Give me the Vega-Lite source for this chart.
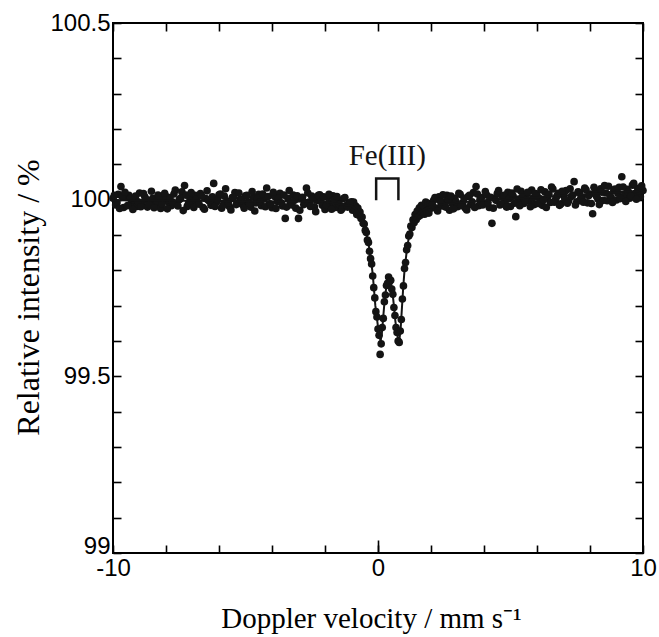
{
  "$schema": "https://vega.github.io/schema/vega-lite/v6.json",
  "width": 530,
  "height": 530,
  "autosize": {"type": "none"},
  "padding": {"left": 113, "top": 23, "right": 16, "bottom": 84},
  "background": "white",
  "config": {
    "view": {"stroke": "black", "strokeWidth": 2},
    "axis": {"grid": false, "domain": false, "tickColor": "black", "tickWidth": 1.6, "labelColor": "black", "titleColor": "black", "labelFont": "Liberation Sans", "labelFontSize": 24, "titleFont": "Liberation Serif", "titleFontSize": 29, "titleFontWeight": "normal"}
  },
  "datasets": {
    "pts": [
      {"v":-10.0,"i":100.004},{"v":-9.9,"i":99.985},{"v":-9.8,"i":100.015},{"v":-9.7,"i":100.037},{"v":-9.6,"i":99.978},{"v":-9.5,"i":100.006},{"v":-9.4,"i":100.012},{"v":-9.3,"i":99.989},{"v":-9.2,"i":99.999},{"v":-9.1,"i":99.981},
      {"v":-9.0,"i":100.019},{"v":-8.9,"i":99.991},{"v":-8.8,"i":100.008},{"v":-8.7,"i":99.979},{"v":-8.6,"i":99.997},{"v":-8.5,"i":100.004},{"v":-8.4,"i":99.987},{"v":-8.3,"i":100.013},{"v":-8.2,"i":99.975},{"v":-8.1,"i":100.001},
      {"v":-8.0,"i":100.009},{"v":-7.9,"i":99.992},{"v":-7.8,"i":99.983},{"v":-7.7,"i":100.016},{"v":-7.6,"i":99.988},{"v":-7.5,"i":100.0},{"v":-7.4,"i":100.022},{"v":-7.3,"i":100.04},{"v":-7.2,"i":99.981},{"v":-7.1,"i":100.005},
      {"v":-7.0,"i":99.986},{"v":-6.9,"i":100.012},{"v":-6.8,"i":99.99},{"v":-6.7,"i":100.017},{"v":-6.6,"i":99.978},{"v":-6.5,"i":100.003},{"v":-6.4,"i":99.998},{"v":-6.3,"i":99.984},{"v":-6.2,"i":100.046},{"v":-6.1,"i":99.993},
      {"v":-6.0,"i":100.014},{"v":-5.9,"i":99.976},{"v":-5.8,"i":100.01},{"v":-5.7,"i":99.996},{"v":-5.6,"i":99.98},{"v":-5.5,"i":100.006},{"v":-5.4,"i":100.02},{"v":-5.3,"i":99.989},{"v":-5.2,"i":100.001},{"v":-5.1,"i":99.985},
      {"v":-5.0,"i":100.011},{"v":-4.9,"i":99.994},{"v":-4.8,"i":99.979},{"v":-4.7,"i":100.007},{"v":-4.6,"i":99.991},{"v":-4.5,"i":100.015},{"v":-4.4,"i":99.983},{"v":-4.3,"i":100.002},{"v":-4.2,"i":100.033},{"v":-4.1,"i":99.988},
      {"v":-4.0,"i":99.977},{"v":-3.9,"i":100.009},{"v":-3.8,"i":99.995},{"v":-3.7,"i":100.018},{"v":-3.6,"i":99.982},{"v":-3.5,"i":99.947},{"v":-3.4,"i":100.004},{"v":-3.3,"i":99.99},{"v":-3.2,"i":100.013},{"v":-3.1,"i":99.976},
      {"v":-3.0,"i":99.947},{"v":-2.9,"i":100.003},{"v":-2.8,"i":99.986},{"v":-2.7,"i":100.033},{"v":-2.6,"i":99.993},{"v":-2.5,"i":100.01},{"v":-2.4,"i":99.98},{"v":-2.3,"i":99.998},{"v":-2.2,"i":100.014},{"v":-2.1,"i":99.984},
      {"v":-2.0,"i":99.972},{"v":-1.9,"i":100.006},{"v":-1.8,"i":99.989},{"v":-1.7,"i":100.011},{"v":-1.6,"i":99.978},{"v":-1.5,"i":99.995},{"v":-1.4,"i":99.97},{"v":-1.3,"i":100.003},{"v":-1.2,"i":99.983},{"v":-1.1,"i":99.99},
      {"v":-1.0,"i":99.994},{"v":-0.96,"i":99.97},{"v":-0.92,"i":99.993},{"v":-0.88,"i":99.972},{"v":-0.84,"i":99.982},{"v":-0.8,"i":99.958},{"v":-0.76,"i":99.976},{"v":-0.72,"i":99.956},{"v":-0.68,"i":99.965},{"v":-0.64,"i":99.947},
      {"v":-0.6,"i":99.951},{"v":-0.56,"i":99.933},{"v":-0.52,"i":99.931},{"v":-0.48,"i":99.913},{"v":-0.44,"i":99.907},{"v":-0.4,"i":99.886},{"v":-0.36,"i":99.879},{"v":-0.32,"i":99.854},{"v":-0.28,"i":99.833},{"v":-0.24,"i":99.818},
      {"v":-0.2,"i":99.784},{"v":-0.16,"i":99.751},{"v":-0.12,"i":99.722},{"v":-0.08,"i":99.683},{"v":-0.04,"i":99.668},{"v":0.0,"i":99.634},{"v":0.04,"i":99.616},{"v":0.08,"i":99.562},{"v":0.12,"i":99.592},{"v":0.16,"i":99.638},
      {"v":0.2,"i":99.664},{"v":0.24,"i":99.711},{"v":0.28,"i":99.73},{"v":0.32,"i":99.757},{"v":0.36,"i":99.763},{"v":0.4,"i":99.781},{"v":0.44,"i":99.769},{"v":0.48,"i":99.772},{"v":0.52,"i":99.747},{"v":0.56,"i":99.732},
      {"v":0.6,"i":99.695},{"v":0.64,"i":99.672},{"v":0.68,"i":99.638},{"v":0.72,"i":99.624},{"v":0.76,"i":99.6},{"v":0.8,"i":99.596},{"v":0.84,"i":99.628},{"v":0.88,"i":99.661},{"v":0.92,"i":99.719},{"v":0.96,"i":99.756},
      {"v":1.0,"i":99.805},{"v":1.04,"i":99.822},{"v":1.08,"i":99.858},{"v":1.12,"i":99.87},{"v":1.16,"i":99.897},{"v":1.2,"i":99.903},{"v":1.24,"i":99.925},{"v":1.28,"i":99.921},{"v":1.32,"i":99.943},{"v":1.36,"i":99.935},
      {"v":1.4,"i":99.958},{"v":1.44,"i":99.943},{"v":1.48,"i":99.968},{"v":1.52,"i":99.952},{"v":1.56,"i":99.977},{"v":1.6,"i":99.956},{"v":1.64,"i":99.984},{"v":1.68,"i":99.964},{"v":1.72,"i":99.982},{"v":1.76,"i":99.959},
      {"v":1.8,"i":99.993},{"v":1.84,"i":99.967},{"v":1.88,"i":99.99},{"v":1.92,"i":99.962},{"v":1.96,"i":99.987},{"v":2.0,"i":99.976},
      {"v":2.1,"i":99.998},{"v":2.2,"i":99.975},{"v":2.3,"i":100.008},{"v":2.4,"i":99.982},{"v":2.5,"i":99.994},{"v":2.6,"i":100.012},{"v":2.7,"i":99.97},{"v":2.8,"i":99.989},{"v":2.9,"i":100.004},{"v":3.0,"i":99.98},
      {"v":3.1,"i":100.015},{"v":3.2,"i":99.991},{"v":3.3,"i":99.976},{"v":3.4,"i":100.009},{"v":3.5,"i":99.986},{"v":3.6,"i":100.02},{"v":3.7,"i":100.037},{"v":3.8,"i":99.983},{"v":3.9,"i":100.006},{"v":4.0,"i":99.99},
      {"v":4.1,"i":100.013},{"v":4.2,"i":99.978},{"v":4.3,"i":99.933},{"v":4.4,"i":100.004},{"v":4.5,"i":100.017},{"v":4.6,"i":99.985},{"v":4.7,"i":100.008},{"v":4.8,"i":99.994},{"v":4.9,"i":100.021},{"v":5.0,"i":99.981},
      {"v":5.1,"i":100.01},{"v":5.2,"i":99.952},{"v":5.3,"i":100.002},{"v":5.4,"i":100.024},{"v":5.5,"i":99.989},{"v":5.6,"i":100.014},{"v":5.7,"i":99.996},{"v":5.8,"i":100.027},{"v":5.9,"i":99.986},{"v":6.0,"i":100.011},
      {"v":6.1,"i":100.003},{"v":6.2,"i":99.984},{"v":6.3,"i":100.022},{"v":6.4,"i":100.007},{"v":6.5,"i":99.992},{"v":6.6,"i":100.03},{"v":6.7,"i":100.001},{"v":6.8,"i":100.018},{"v":6.9,"i":99.988},{"v":7.0,"i":100.012},
      {"v":7.1,"i":100.026},{"v":7.2,"i":99.997},{"v":7.3,"i":100.009},{"v":7.4,"i":100.051},{"v":7.5,"i":99.994},{"v":7.6,"i":100.02},{"v":7.7,"i":100.005},{"v":7.8,"i":100.033},{"v":7.9,"i":99.991},{"v":8.0,"i":100.016},
      {"v":8.1,"i":99.96},{"v":8.2,"i":100.024},{"v":8.3,"i":100.002},{"v":8.4,"i":100.031},{"v":8.5,"i":99.998},{"v":8.6,"i":100.019},{"v":8.7,"i":100.038},{"v":8.8,"i":100.006},{"v":8.9,"i":100.027},{"v":9.0,"i":99.999},
      {"v":9.1,"i":100.035},{"v":9.2,"i":100.065},{"v":9.3,"i":100.012},{"v":9.4,"i":100.029},{"v":9.5,"i":100.004},{"v":9.6,"i":100.041},{"v":9.7,"i":100.017},{"v":9.8,"i":100.032},{"v":9.9,"i":100.008},{"v":10.0,"i":100.026},
      {"v":-9.95,"i":100.012},{"v":-9.85,"i":99.991},{"v":-9.75,"i":99.975},{"v":-9.65,"i":100.008},{"v":-9.55,"i":100.021},{"v":-9.45,"i":99.983},{"v":-9.35,"i":100.003},{"v":-9.25,"i":99.972},{"v":-9.15,"i":100.01},{"v":-9.05,"i":99.994},
      {"v":-8.95,"i":99.98},{"v":-8.85,"i":100.017},{"v":-8.75,"i":100.001},{"v":-8.65,"i":99.986},{"v":-8.55,"i":100.024},{"v":-8.45,"i":99.977},{"v":-8.35,"i":99.996},{"v":-8.25,"i":100.009},{"v":-8.15,"i":99.988},{"v":-8.05,"i":100.018},
      {"v":-7.95,"i":99.974},{"v":-7.85,"i":100.006},{"v":-7.75,"i":99.993},{"v":-7.65,"i":100.027},{"v":-7.55,"i":99.982},{"v":-7.45,"i":100.004},{"v":-7.35,"i":99.969},{"v":-7.25,"i":100.013},{"v":-7.15,"i":99.99},{"v":-7.05,"i":100.02},
      {"v":-6.95,"i":99.978},{"v":-6.85,"i":100.002},{"v":-6.75,"i":99.987},{"v":-6.65,"i":100.01},{"v":-6.55,"i":99.973},{"v":-6.45,"i":100.025},{"v":-6.35,"i":99.995},{"v":-6.25,"i":100.008},{"v":-6.15,"i":99.981},{"v":-6.05,"i":99.999},
      {"v":-5.95,"i":100.016},{"v":-5.85,"i":99.984},{"v":-5.75,"i":100.031},{"v":-5.65,"i":99.992},{"v":-5.55,"i":99.971},{"v":-5.45,"i":100.007},{"v":-5.35,"i":99.986},{"v":-5.25,"i":100.019},{"v":-5.15,"i":99.998},{"v":-5.05,"i":99.976},
      {"v":-4.95,"i":100.012},{"v":-4.85,"i":99.989},{"v":-4.75,"i":100.023},{"v":-4.65,"i":99.968},{"v":-4.55,"i":100.003},{"v":-4.45,"i":99.994},{"v":-4.35,"i":100.016},{"v":-4.25,"i":99.98},{"v":-4.15,"i":100.009},{"v":-4.05,"i":99.987},
      {"v":-3.95,"i":100.021},{"v":-3.85,"i":99.975},{"v":-3.75,"i":100.004},{"v":-3.65,"i":99.991},{"v":-3.55,"i":100.013},{"v":-3.45,"i":99.979},{"v":-3.35,"i":100.026},{"v":-3.25,"i":99.985},{"v":-3.15,"i":99.998},{"v":-3.05,"i":100.011},
      {"v":-2.95,"i":99.97},{"v":-2.85,"i":100.007},{"v":-2.75,"i":99.992},{"v":-2.65,"i":100.019},{"v":-2.55,"i":99.981},{"v":-2.45,"i":100.002},{"v":-2.35,"i":99.966},{"v":-2.25,"i":100.012},{"v":-2.15,"i":99.995},{"v":-2.05,"i":100.008},
      {"v":-1.95,"i":99.984},{"v":-1.85,"i":100.015},{"v":-1.75,"i":99.973},{"v":-1.65,"i":99.999},{"v":-1.55,"i":100.009},{"v":-1.45,"i":99.986},{"v":-1.35,"i":99.975},{"v":-1.25,"i":100.006},{"v":-1.15,"i":99.979},{"v":-1.05,"i":99.992},
      {"v":2.05,"i":99.985},{"v":2.15,"i":100.006},{"v":2.25,"i":99.968},{"v":2.35,"i":99.996},{"v":2.45,"i":100.014},{"v":2.55,"i":99.979},{"v":2.65,"i":99.999},{"v":2.75,"i":100.01},{"v":2.85,"i":99.974},{"v":2.95,"i":99.993},
      {"v":3.05,"i":100.018},{"v":3.15,"i":99.983},{"v":3.25,"i":100.004},{"v":3.35,"i":99.971},{"v":3.45,"i":100.012},{"v":3.55,"i":99.994},{"v":3.65,"i":99.978},{"v":3.75,"i":100.016},{"v":3.85,"i":100.001},{"v":3.95,"i":99.985},
      {"v":4.05,"i":100.023},{"v":4.15,"i":99.992},{"v":4.25,"i":100.007},{"v":4.35,"i":99.976},{"v":4.45,"i":99.998},{"v":4.55,"i":100.026},{"v":4.65,"i":99.988},{"v":4.75,"i":100.012},{"v":4.85,"i":99.979},{"v":4.95,"i":100.003},
      {"v":5.05,"i":100.019},{"v":5.15,"i":99.99},{"v":5.25,"i":100.03},{"v":5.35,"i":99.983},{"v":5.45,"i":100.008},{"v":5.55,"i":99.996},{"v":5.65,"i":100.021},{"v":5.75,"i":99.98},{"v":5.85,"i":100.005},{"v":5.95,"i":100.017},
      {"v":6.05,"i":99.989},{"v":6.15,"i":100.028},{"v":6.25,"i":100.0},{"v":6.35,"i":99.978},{"v":6.45,"i":100.015},{"v":6.55,"i":100.036},{"v":6.65,"i":99.993},{"v":6.75,"i":100.01},{"v":6.85,"i":99.984},{"v":6.95,"i":100.024},
      {"v":7.05,"i":100.002},{"v":7.15,"i":99.99},{"v":7.25,"i":100.031},{"v":7.35,"i":100.013},{"v":7.45,"i":99.985},{"v":7.55,"i":100.022},{"v":7.65,"i":100.004},{"v":7.75,"i":99.993},{"v":7.85,"i":100.028},{"v":7.95,"i":100.011},
      {"v":8.05,"i":99.989},{"v":8.15,"i":100.035},{"v":8.25,"i":100.009},{"v":8.35,"i":99.986},{"v":8.45,"i":100.021},{"v":8.55,"i":100.04},{"v":8.65,"i":99.997},{"v":8.75,"i":100.014},{"v":8.85,"i":99.992},{"v":8.95,"i":100.03},
      {"v":9.05,"i":100.018},{"v":9.15,"i":100.003},{"v":9.25,"i":100.036},{"v":9.35,"i":99.995},{"v":9.45,"i":100.022},{"v":9.55,"i":100.01},{"v":9.65,"i":100.046},{"v":9.75,"i":100.001},{"v":9.85,"i":100.024},{"v":9.95,"i":100.039}
    ],
    "fit": [
      {"v":-10,"i":99.998},{"v":-2,"i":99.994},{"v":-1.5,"i":99.988},{"v":-1.0,"i":99.982},{"v":-0.9,"i":99.977},{"v":-0.8,"i":99.97},{"v":-0.7,"i":99.96},{"v":-0.6,"i":99.945},{"v":-0.5,"i":99.922},{"v":-0.4,"i":99.89},
      {"v":-0.3,"i":99.85},{"v":-0.2,"i":99.79},{"v":-0.1,"i":99.7},{"v":0.0,"i":99.64},{"v":0.05,"i":99.615},{"v":0.1,"i":99.6},{"v":0.15,"i":99.625},{"v":0.2,"i":99.67},{"v":0.25,"i":99.715},{"v":0.3,"i":99.745},
      {"v":0.35,"i":99.765},{"v":0.42,"i":99.775},{"v":0.5,"i":99.762},{"v":0.55,"i":99.735},{"v":0.6,"i":99.7},{"v":0.65,"i":99.66},{"v":0.7,"i":99.63},{"v":0.75,"i":99.608},{"v":0.8,"i":99.6},{"v":0.85,"i":99.63},
      {"v":0.9,"i":99.69},{"v":0.95,"i":99.75},{"v":1.0,"i":99.8},{"v":1.1,"i":99.865},{"v":1.2,"i":99.908},{"v":1.3,"i":99.932},{"v":1.4,"i":99.948},{"v":1.5,"i":99.958},{"v":1.6,"i":99.966},{"v":1.8,"i":99.975},
      {"v":2.0,"i":99.981},{"v":2.5,"i":99.988},{"v":4,"i":99.998},{"v":7,"i":100.012},{"v":10,"i":100.025}
    ],
    "bracket": [
      {"v":-0.07,"i":99.998,"o":1},{"v":-0.07,"i":100.06,"o":2},{"v":0.77,"i":100.06,"o":3},{"v":0.77,"i":99.998,"o":4}
    ],
    "label": [{"v":0.35,"i":100.098,"t":"Fe(III)"}]
  },
  "layer": [
    {
      "data": {"name": "pts"},
      "mark": {"type": "circle", "size": 58, "color": "#141414", "opacity": 1},
      "encoding": {
        "x": {"field": "v", "type": "quantitative", "scale": {"domain": [-10, 10], "nice": false, "zero": false},
          "axis": {"orient": "bottom", "title": "Doppler velocity / mm s⁻¹", "values": [-10,-8,-6,-4,-2,0,2,4,6,8,10],
            "tickSize": -8,
            "labelExpr": "datum.value == -10 ? '-10' : datum.value == 0 ? '0' : datum.value == 10 ? '10' : ''",
            "labelPadding": 11, "labelFlush": false, "labelOverlap": false,
            "titleX": 258, "titleY": 74, "titleBaseline": "alphabetic", "titleAnchor": "middle"}},
        "y": {"field": "i", "type": "quantitative", "scale": {"domain": [99, 100.5], "nice": false, "zero": false},
          "axis": {"orient": "left", "title": "Relative intensity / %", "titleFontSize": 32, "values": [99,99.1,99.2,99.3,99.4,99.5,99.6,99.7,99.8,99.9,100,100.1,100.2,100.3,100.4,100.5],
            "tickSize": -8,
            "labelExpr": "datum.value == 100.5 ? '100.5' : datum.value == 100 ? '100' : datum.value == 99.5 ? '99.5' : datum.value == 99 ? '99' : ''",
            "labelBaseline": {"condition": {"test": "datum.value == 99", "value": "alphabetic"}, "value": "middle"},
            "labelPadding": 11, "labelFlush": false, "labelOverlap": false,
            "titleX": -85, "titleY": 274, "titleBaseline": "middle", "titleAngle": -90, "titleAnchor": "middle"}}
      }
    },
    {
      "data": {"name": "fit"},
      "mark": {"type": "line", "color": "#141414", "strokeWidth": 2},
      "encoding": {
        "x": {"field": "v", "type": "quantitative", "axis": {"orient": "top", "title": null, "labels": false, "values": [-10,-8,-6,-4,-2,0,2,4,6,8,10], "tickSize": -8}},
        "y": {"field": "i", "type": "quantitative", "axis": {"orient": "right", "title": null, "labels": false, "values": [99,99.1,99.2,99.3,99.4,99.5,99.6,99.7,99.8,99.9,100,100.1,100.2,100.3,100.4,100.5], "tickSize": -8}}
      }
    },
    {
      "data": {"name": "bracket"},
      "mark": {"type": "line", "color": "#141414", "strokeWidth": 2.5, "strokeJoin": "miter"},
      "encoding": {
        "x": {"field": "v", "type": "quantitative", "axis": {"orient": "bottom", "title": null, "labels": false, "values": [0], "tickSize": -13}},
        "y": {"field": "i", "type": "quantitative", "axis": null},
        "order": {"field": "o", "type": "quantitative"}
      }
    },
    {
      "data": {"name": "label"},
      "mark": {"type": "text", "font": "Liberation Serif", "fontSize": 29, "color": "#141414", "align": "center", "baseline": "alphabetic"},
      "encoding": {
        "x": {"field": "v", "type": "quantitative", "axis": null},
        "y": {"field": "i", "type": "quantitative", "axis": null},
        "text": {"field": "t", "type": "nominal"}
      }
    }
  ],
  "resolve": {"axis": {"x": "independent", "y": "independent"}}
}
